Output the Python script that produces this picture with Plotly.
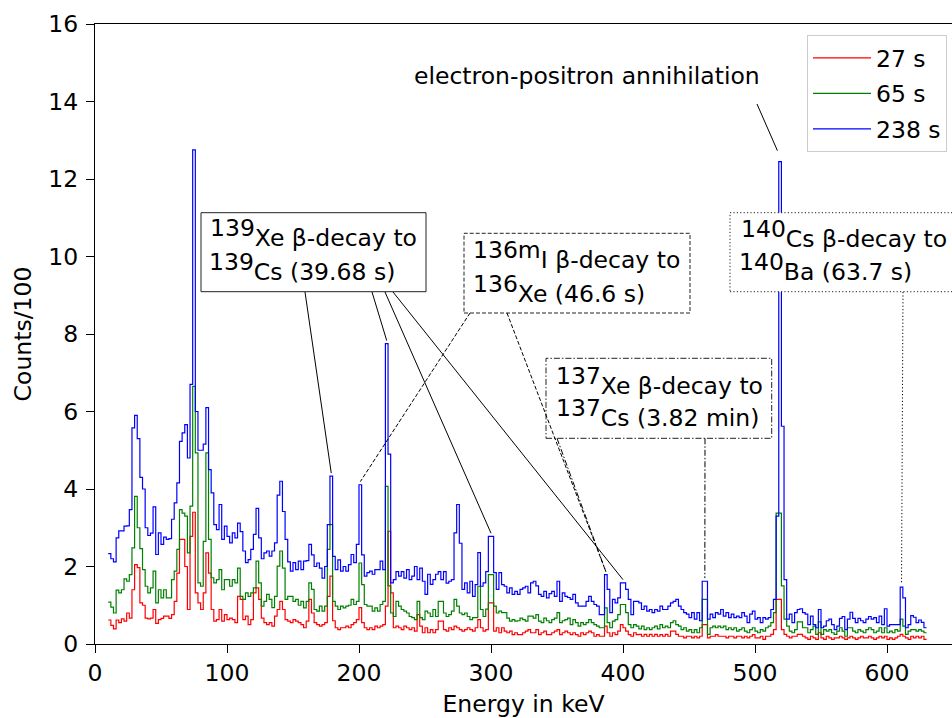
import plotly.graph_objects as go

# ---------------- data (2 keV bins starting at 10 keV) ----------------
E_START = 10
BIN_WIDTH = 2

counts_238s = [
    2.33, 2.2, 2.12, 2.74, 2.92, 2.92, 3.04, 3.05, 3.47, 5.58,
    5.9, 5.3, 4.3, 4.0, 3.0, 2.8, 2.86, 3.54, 2.31, 2.87,
    2.57, 2.76, 2.7, 2.72, 3.22, 3.64, 4.16, 5.23, 5.45, 5.66,
    4.8, 6.7, 12.75, 6.0, 5.0, 5.0, 5.16, 6.1, 4.5, 3.9,
    3.08, 2.95, 3.6, 2.7, 3.04, 2.78, 2.61, 2.87, 2.74, 3.12,
    2.9, 2.4, 2.1, 2.18, 2.44, 2.83, 3.5, 2.74, 2.2, 2.35,
    2.4, 2.27, 2.4, 2.61, 3.84, 4.2, 3.42, 2.7, 2.12, 1.88,
    2.1, 1.92, 2.14, 1.92, 2.14, 2.15, 2.57, 2.3, 2.0, 2.09,
    1.96, 1.7, 2.0, 3.08, 4.33, 2.26, 1.92, 2.17, 1.88, 2.0,
    1.88, 2.05, 2.31, 2.1, 2.57, 4.11, 2.3, 1.75, 1.84, 1.88,
    1.8, 1.92, 1.92, 2.14, 1.92, 7.75, 4.9, 1.58, 1.66, 1.87,
    1.75, 1.87, 1.7, 1.92, 1.66, 1.75, 2.0, 1.66, 1.96, 1.62,
    1.28, 1.8, 1.54, 1.66, 1.8, 1.87, 1.66, 1.87, 1.57, 1.62,
    1.66, 2.87, 3.6, 2.6, 1.41, 1.58, 1.32, 1.62, 1.23, 1.53,
    2.36, 1.49, 1.58, 1.87, 2.78, 2.78, 1.84, 1.41, 1.84, 1.53,
    1.49, 1.32, 1.45, 1.28, 1.36, 1.28, 1.41, 1.45, 1.49, 1.32,
    1.58, 1.62, 1.5, 1.28, 1.23, 1.36, 1.19, 1.3, 1.36, 1.23,
    1.62, 1.1, 1.32, 1.23, 1.2, 1.15, 1.28, 1.06, 0.98, 0.98,
    0.98, 1.1, 1.23, 1.1, 1.02, 0.98, 0.76, 0.76, 1.79, 1.41,
    0.81, 1.15, 1.06, 1.19, 1.58, 1.58, 1.41, 1.15, 0.76, 1.1,
    1.1, 1.06, 0.89, 0.98, 0.85, 0.89, 0.81, 0.89, 0.85, 0.98,
    0.89, 0.89, 0.98, 1.06, 1.1, 1.15, 0.98, 0.89, 0.81, 0.77,
    0.68, 0.81, 0.64, 0.81, 0.6, 1.62, 1.62, 0.64, 0.77, 0.68,
    0.81, 0.77, 0.89, 0.72, 0.81, 0.68, 0.77, 0.68, 0.72, 0.68,
    0.81, 0.72, 0.55, 0.77, 0.85, 0.64, 0.68, 0.55, 0.68, 0.64,
    0.68, 0.89, 1.15, 3.3, 12.45, 5.62, 1.66, 0.64, 0.77, 0.55,
    0.81, 0.89, 0.91, 0.81, 0.77, 0.5, 0.72, 0.5, 0.42, 0.89,
    0.42, 0.46, 0.6, 0.64, 0.5, 0.37, 0.46, 0.66, 0.71, 0.37,
    0.64, 0.82, 0.66, 0.55, 0.66, 0.6, 0.55, 0.64, 0.71, 0.64,
    0.68, 0.55, 0.72, 0.5, 0.91, 0.46, 0.5, 0.5, 0.5, 0.5,
    1.47, 1.19, 0.42, 0.5, 0.73, 0.69, 0.55, 0.62, 0.56, 0.42,
]

counts_65s = [
    1.08, 0.95, 0.8, 1.39, 1.32, 1.4, 1.68, 1.62, 1.79, 2.48,
    3.81, 3.0, 2.46, 1.92, 1.49, 1.32, 1.45, 1.88, 1.06, 1.4,
    1.19, 1.4, 1.19, 1.19, 1.66, 1.88, 2.44, 3.47, 3.38, 3.3,
    2.35, 3.56, 6.65, 4.93, 1.58, 1.49, 2.65, 4.93, 2.7, 1.71,
    1.58, 1.66, 1.92, 1.4, 1.66, 1.66, 1.49, 1.66, 1.58, 1.96,
    1.23, 1.15, 1.32, 1.23, 1.32, 1.45, 2.14, 1.58, 0.98, 1.1,
    1.28, 1.15, 0.94, 1.23, 2.01, 2.4, 1.96, 1.15, 1.23, 1.23,
    1.1, 1.15, 1.0, 1.1, 0.93, 1.1, 1.58, 1.41, 0.89, 0.85,
    0.98, 0.85, 0.98, 2.44, 3.08, 1.1, 0.98, 0.89, 0.98, 0.93,
    0.98, 1.0, 1.15, 1.02, 1.1, 2.09, 1.53, 1.02, 0.98, 0.98,
    0.85, 0.93, 0.85, 1.02, 1.1, 4.07, 1.5, 0.8, 0.71, 1.1,
    0.98, 0.89, 0.85, 0.8, 0.71, 0.68, 0.63, 1.1, 0.68, 0.63,
    0.85, 0.8, 0.71, 0.89, 0.71, 1.1, 1.1, 0.8, 0.71, 0.76,
    0.85, 1.15, 0.98, 0.8, 0.76, 0.8, 0.71, 0.63, 0.68, 0.68,
    1.49, 0.89, 0.71, 0.9, 1.79, 1.79, 0.98, 0.8, 0.85, 0.81,
    0.81, 0.67, 0.59, 0.63, 0.59, 0.6, 0.67, 0.63, 0.59, 0.72,
    0.72, 0.67, 0.76, 0.59, 0.55, 0.67, 0.6, 0.55, 0.63, 0.67,
    0.81, 0.55, 0.6, 0.63, 0.67, 0.5, 0.63, 0.55, 0.46, 0.55,
    0.5, 0.55, 0.63, 0.55, 0.5, 0.46, 0.42, 0.42, 0.93, 0.55,
    0.42, 0.59, 0.63, 0.76, 1.02, 1.02, 0.81, 0.5, 0.42, 0.5,
    0.46, 0.39, 0.46, 0.37, 0.42, 0.37, 0.42, 0.46, 0.39, 0.5,
    0.42, 0.46, 0.42, 0.55, 0.6, 0.5, 0.46, 0.37, 0.42, 0.33,
    0.37, 0.29, 0.37, 0.29, 0.42, 1.15, 1.15, 0.25, 0.42, 0.46,
    0.42, 0.46, 0.42, 0.46, 0.37, 0.42, 0.37, 0.42, 0.33, 0.37,
    0.42, 0.33, 0.29, 0.37, 0.42, 0.33, 0.29, 0.37, 0.33, 0.42,
    0.46, 0.55, 0.81, 3.38, 3.38, 1.5, 0.64, 0.46, 0.33, 0.29,
    0.37, 0.57, 0.57, 0.42, 0.42, 0.29, 0.37, 0.46, 0.25, 0.57,
    0.25, 0.37, 0.33, 0.37, 0.29, 0.25, 0.33, 0.42, 0.33, 0.2,
    0.42, 0.42, 0.33, 0.29, 0.37, 0.33, 0.29, 0.37, 0.42, 0.37,
    0.29, 0.33, 0.42, 0.29, 0.42, 0.29, 0.33, 0.29, 0.37, 0.33,
    0.64, 0.46, 0.25, 0.33, 0.37, 0.37, 0.33, 0.37, 0.33, 0.29,
]

counts_27s = [
    0.62, 0.48, 0.39, 0.62, 0.55, 0.65, 0.59, 0.8, 0.67, 1.4,
    2.05, 1.97, 1.06, 1.0, 0.67, 0.65, 0.67, 0.89, 0.53, 0.63,
    0.66, 0.72, 0.72, 0.66, 0.76, 1.1, 1.83, 2.7, 2.7, 2.0,
    0.89, 2.78, 3.4, 1.32, 1.06, 0.89, 1.32, 2.35, 1.83, 0.89,
    0.59, 0.63, 0.89, 0.59, 0.76, 0.63, 0.67, 0.63, 0.55, 1.23,
    1.15, 0.63, 0.72, 0.5, 0.63, 1.32, 1.45, 1.15, 0.67, 0.55,
    0.5, 0.55, 0.46, 0.72, 0.89, 1.1, 0.89, 0.63, 0.59, 0.55,
    0.63, 0.59, 0.55, 0.5, 0.42, 0.59, 1.15, 0.8, 0.55, 0.5,
    0.46, 0.5, 0.55, 1.23, 1.75, 0.6, 0.42, 0.37, 0.42, 0.42,
    0.46, 0.42, 0.5, 0.55, 0.63, 0.94, 0.55, 0.42, 0.37, 0.42,
    0.37, 0.46, 0.42, 0.46, 0.5, 0.98, 2.91, 1.32, 0.42, 0.46,
    0.42, 0.37, 0.46, 0.42, 0.37, 0.42, 0.33, 0.76, 0.46, 0.29,
    0.42, 0.29, 0.37, 0.29, 0.37, 0.59, 0.59, 0.37, 0.33, 0.42,
    0.37, 0.46, 0.42, 0.37, 0.33, 0.37, 0.42, 0.37, 0.33, 0.42,
    0.63, 0.42, 0.33, 0.37, 1.06, 1.06, 0.33, 0.42, 0.29, 0.42,
    0.33, 0.29, 0.33, 0.24, 0.29, 0.24, 0.24, 0.29, 0.33, 0.37,
    0.29, 0.29, 0.37, 0.24, 0.29, 0.33, 0.24, 0.24, 0.29, 0.33,
    0.37, 0.24, 0.29, 0.33, 0.29, 0.24, 0.29, 0.24, 0.2, 0.29,
    0.24, 0.29, 0.33, 0.29, 0.2, 0.24, 0.2, 0.2, 0.46, 0.29,
    0.2, 0.29, 0.24, 0.33, 0.5, 0.42, 0.33, 0.24, 0.2, 0.29,
    0.24, 0.25, 0.2, 0.25, 0.2, 0.25, 0.2, 0.25, 0.2, 0.24,
    0.2, 0.25, 0.2, 0.33, 0.33, 0.25, 0.2, 0.2, 0.16, 0.2,
    0.2, 0.16, 0.2, 0.16, 0.2, 0.5, 0.5, 0.16, 0.2, 0.2,
    0.24, 0.2, 0.2, 0.2, 0.16, 0.2, 0.2, 0.16, 0.2, 0.2,
    0.16, 0.2, 0.16, 0.2, 0.24, 0.16, 0.16, 0.2, 0.12, 0.2,
    0.2, 0.25, 0.37, 1.15, 1.15, 0.37, 0.25, 0.2, 0.16, 0.2,
    0.2, 0.25, 0.25, 0.2, 0.16, 0.12, 0.2, 0.16, 0.12, 0.29,
    0.16, 0.12, 0.2, 0.16, 0.12, 0.16, 0.16, 0.2, 0.16, 0.12,
    0.16, 0.2, 0.16, 0.12, 0.16, 0.2, 0.16, 0.16, 0.2, 0.16,
    0.12, 0.16, 0.2, 0.16, 0.2, 0.12, 0.16, 0.12, 0.16, 0.2,
    0.25, 0.2, 0.16, 0.12, 0.2, 0.16, 0.2, 0.16, 0.2, 0.12,
]

series_names = ["27 s", "65 s", "238 s"]
series_colors = ["#ff0000", "#008000", "#0000ff"]
series_values = [counts_27s, counts_65s, counts_238s]

x_ticks = [0, 100, 200, 300, 400, 500, 600]
y_ticks = [0, 2, 4, 6, 8, 10, 12, 14, 16]

# annotated peaks (energies in keV), looked up in the 238 s series
peaks_139Xe = [179, 221, 300, 400]
peaks_136mI = [201, 387]
peaks_137Xe = [387, 462]
peaks_140Cs = [611]
peak_annihilation = 519

# ---------------- layout geometry ----------------
W, H = 952, 718
ML, MR, MT, MB = 95, 0, 24, 74
X_MAX = (W - ML - MR) / 1.32
Y_MAX = 16
PW, PH = W - ML - MR, H - MT - MB
FONT = "DejaVu Sans"
FS = 23.5
DESC = 5.5


def px_x(px):
    return (px - ML) / PW * X_MAX


def px_y(py):
    return (H - MB - py) / PH * Y_MAX


def value_at(series, energy):
    return series[int((energy - E_START) // BIN_WIDTH)]


def sup(n):
    return "<sup><span style='font-size:%gpx'>%s</span></sup>" % (FS, n)


fig = go.Figure()
n_bins = len(counts_238s)
edges = [E_START + BIN_WIDTH * i for i in range(n_bins + 1)]
for name, color, vals in zip(series_names, series_colors, series_values):
    fig.add_trace(go.Scatter(
        x=edges, y=vals + [vals[-1]], mode="lines", name=name,
        legendgroup=name,
        line=dict(color=color, width=1.2, shape="hv"),
    ))

shapes = []
annotations = []

boxes = [
    # (x0px, y0px, x1px, y1px, dash)
    (201, 212.7, 426, 291.7, "solid"),
    (464, 233.3, 690, 313, "4px,2px"),
    (546, 358.3, 771.7, 438.3, "6px,2px,1.5px,2px"),
    (730, 212.7, 975, 291.7, "1.2px,2.2px"),
]
texts = [
    [(209, 247.3, sup(139) + "Xe β-decay to"), (207.5, 281.7, sup(139) + "Cs (39.68 s)")],
    [(472, 269, sup("136m") + "I β-decay to"), (472, 303, sup(136) + "Xe (46.6 s)")],
    [(555, 395, sup(137) + "Xe β-decay to"), (555, 427, sup(137) + "Cs (3.82 min)")],
    [(740, 248.3, sup(140) + "Cs β-decay to"), (738, 281.7, sup(140) + "Ba (63.7 s)")],
]
connectors = [
    ([(305, 292), (372, 292), (385, 292), (393, 292)], peaks_139Xe, "solid"),
    ([(470, 313), (507, 313)], peaks_136mI, "4px,2px"),
    ([(557, 438.3), (705, 438.3)], peaks_137Xe, "6px,2px,1.5px,2px"),
    ([(903, 292)], peaks_140Cs, "1.2px,2.2px"),
]

for (x0, y0, x1, y1, dash) in boxes:
    shapes.append(dict(type="rect", xref="x", yref="y",
                       x0=px_x(x0), x1=px_x(x1), y0=px_y(y1), y1=px_y(y0),
                       line=dict(color="#222222", width=1, dash=dash),
                       fillcolor="white", layer="above"))

for starts, peaks, dash in connectors:
    for (sx, sy), e in zip(starts, peaks):
        shapes.append(dict(type="line", xref="x", yref="y",
                           x0=px_x(sx), y0=px_y(sy),
                           x1=e, y1=value_at(counts_238s, e) + 0.08,
                           line=dict(color="black", width=1, dash=dash),
                           layer="above"))

# annihilation pointer
shapes.append(dict(type="line", xref="x", yref="y",
                   x0=px_x(757), y0=px_y(104),
                   x1=peak_annihilation - 2,
                   y1=value_at(counts_238s, peak_annihilation) + 0.28,
                   line=dict(color="black", width=1), layer="above"))

for group in texts:
    for (lx, by, t) in group:
        annotations.append(dict(x=px_x(lx), y=px_y(by + DESC), xref="x", yref="y",
                                text=t, showarrow=False, xanchor="left",
                                yanchor="bottom", align="left", borderpad=0,
                                font=dict(family=FONT, size=FS, color="black")))

annotations.append(dict(x=px_x(413), y=px_y(86 + DESC), xref="x", yref="y",
                        text="electron-positron annihilation", showarrow=False,
                        xanchor="left", yanchor="bottom", borderpad=0,
                        font=dict(family=FONT, size=FS, color="black")))

axis_common = dict(
    showline=True, linecolor="black", linewidth=1.3, ticks="outside",
    ticklen=8, tickwidth=1.3, tickcolor="black", showgrid=False,
    zeroline=False, automargin=False,
    tickfont=dict(family=FONT, size=FS, color="black"),
)

fig.update_layout(
    width=W, height=H,
    margin=dict(l=ML, r=MR, t=MT, b=MB, pad=0, autoexpand=False),
    paper_bgcolor="white", plot_bgcolor="white",
    font=dict(family=FONT, size=FS, color="black"),
    xaxis=dict(range=[0, X_MAX], tickvals=x_ticks, mirror=True,
               title=dict(text="Energy in keV", standoff=22,
                          font=dict(family=FONT, size=FS)),
               **axis_common),
    yaxis=dict(range=[0, Y_MAX], tickvals=y_ticks, ticklabelstandoff=3,
               title=dict(text="Counts/100", standoff=10,
                          font=dict(family=FONT, size=FS)),
               **axis_common),
    legend=dict(x=1 - 5 / PW, xanchor="right", y=1 - 11 / PH, yanchor="top",
                bordercolor="#cccccc", borderwidth=1, itemwidth=58,
                bgcolor="rgba(255,255,255,0.85)", tracegroupgap=2,
                font=dict(family=FONT, size=FS, color="black")),
    shapes=shapes,
    annotations=annotations,
    showlegend=True,
)

fig.write_html("out.html")
